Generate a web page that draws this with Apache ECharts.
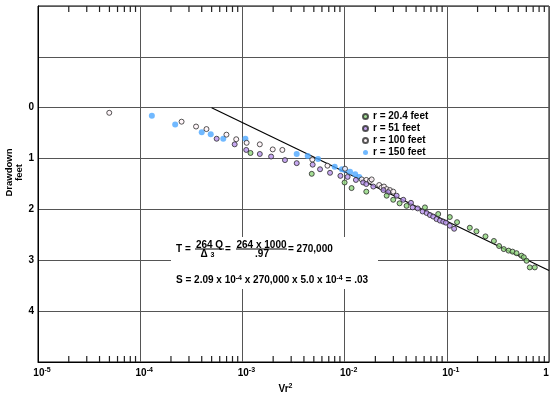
<!DOCTYPE html>
<html><head><meta charset="utf-8">
<script src="https://cdn.jsdelivr.net/npm/echarts/dist/echarts.min.js"></script>
<style>html,body{margin:0;padding:0;background:#fff}#c{width:554px;height:394px}</style>
</head><body><div id="c"></div>
<script>
// ---- data (x = t/r^2 axis value, y = drawdown in feet) ----
const seriesNames = ['r = 20.4 feet', 'r = 51 feet', 'r = 100 feet', 'r = 150 feet'];
const r20 = [[1.2e-3,0.89],[4.77e-3,1.30],[1.0e-2,1.47],[1.17e-2,1.58],[1.63e-2,1.65],[2.58e-2,1.73],[2.99e-2,1.81],[3.45e-2,1.88],[4.04e-2,1.93],[6.11e-2,1.96],[8.24e-2,2.09],[1.07e-1,2.15],[1.26e-1,2.25],[1.68e-1,2.36],[1.95e-1,2.43],[2.39e-1,2.53],[2.89e-1,2.62],[3.25e-1,2.72],[3.61e-1,2.78],[4.02e-1,2.81],[4.40e-1,2.83],[4.81e-1,2.86],[5.38e-1,2.91],[5.67e-1,2.94],[6.03e-1,3.01],[6.49e-1,3.14],[7.26e-1,3.14]];
const r51 = [[5.6e-4,0.61],[8.4e-4,0.72],[1.09e-3,0.83],[1.48e-3,0.91],[1.91e-3,0.96],[2.61e-3,1.03],[3.40e-3,1.09],[4.87e-3,1.12],[5.75e-3,1.21],[7.2e-3,1.28],[9.1e-3,1.34],[1.07e-2,1.36],[1.29e-2,1.42],[1.52e-2,1.47],[1.63e-2,1.50],[1.91e-2,1.55],[2.4e-2,1.62],[2.67e-2,1.66],[3.23e-2,1.73],[3.75e-2,1.81],[4.46e-2,1.87],[4.63e-2,1.96],[5.19e-2,1.98],[5.8e-2,2.04],[6.35e-2,2.07],[6.84e-2,2.11],[7.36e-2,2.14],[7.94e-2,2.19],[8.57e-2,2.22],[9.23e-2,2.24],[9.8e-2,2.26],[1.07e-1,2.32],[1.18e-1,2.38]];
const r100 = [[4.98e-5,0.10],[2.54e-4,0.275],[3.52e-4,0.37],[4.45e-4,0.42],[6.98e-4,0.53],[8.7e-4,0.62],[1.10e-3,0.69],[1.48e-3,0.72],[1.98e-3,0.82],[2.46e-3,0.83],[4.83e-3,1.02],[6.8e-3,1.14],[1.01e-2,1.20],[1.47e-2,1.41],[1.63e-2,1.42],[1.77e-2,1.44],[1.84e-2,1.41],[2.18e-2,1.52],[2.3e-2,1.57],[2.43e-2,1.55],[2.58e-2,1.60],[2.78e-2,1.62],[2.99e-2,1.65]];
const r150 = [[1.30e-4,0.157],[2.2e-4,0.33],[4.0e-4,0.48],[4.9e-4,0.52],[6.5e-4,0.61],[1.07e-3,0.61],[3.40e-3,0.91],[4.36e-3,0.95],[5.5e-3,1.01],[8.0e-3,1.16],[9.4e-3,1.21],[1.0e-2,1.22],[1.13e-2,1.26],[1.27e-2,1.31],[1.39e-2,1.36]];
const fitLine = [[5.0e-4,0],[1,3.2]];
const yTickLabels = [0,1,2,3,4];
const minorMultipliers = [2,3,4,5,6,7,8,9];
const decades = [1e-5,1e-4,1e-3,1e-2,1e-1];

const minorTicks = [];
decades.forEach(d => minorMultipliers.forEach(m => minorTicks.push(d*m)));
const Y_MIN = -2, Y_MAX = 5;

const FF = '"Liberation Sans", Arial, Helvetica, sans-serif';
const F10 = 'bold 10px ' + FF;

const chart = echarts.init(document.getElementById('c'), null, {renderer:'canvas'});
const scatterBase = {type:'scatter', symbol:'circle', symbolSize:5, clip:false};
chart.setOption({
  animation:false,
  backgroundColor:'#fff',
  grid:{left:38, right:5, top:6, bottom:32, show:true, borderColor:'#000', borderWidth:1, backgroundColor:'transparent', containLabel:false, outerBoundsMode:'none'},
  legend:{
    data:seriesNames, orient:'vertical', left:362, top:111, itemWidth:5, itemHeight:5, itemGap:1,
    icon:'circle', selectedMode:false, padding:0,
    textStyle:{fontSize:10, fontWeight:'bold', fontFamily:FF, color:'#000', lineHeight:11}
  },
  xAxis:{
    type:'log', logBase:10, min:1e-5, max:1,
    axisLine:{show:true, onZero:false, lineStyle:{color:'#000', width:1}},
    axisTick:{show:false},
    splitLine:{show:true, lineStyle:{color:'#555', width:1}},
    axisLabel:{
      margin:5, color:'#000',
      formatter:function(v){
        const e = Math.round(Math.log10(v));
        return e === 0 ? '{one|1}' : '{b|10}{s|' + e + '}';
      },
      rich:{
        b:{fontSize:10, fontWeight:'bold', fontFamily:FF, color:'#000', lineHeight:12, padding:[0,0,0,8]},
        s:{fontSize:7, fontWeight:'bold', fontFamily:FF, color:'#000', lineHeight:7, verticalAlign:'top'},
        one:{fontSize:10, fontWeight:'bold', fontFamily:FF, color:'#000', lineHeight:12, padding:[0,6,0,0]}
      }
    },
    name:'{b|Vr}{s|2}', nameLocation:'middle', nameGap:14,
    nameTextStyle:{
      padding:[0,16,0,0],
      rich:{
        b:{fontSize:10, fontWeight:'bold', fontFamily:FF, color:'#000', lineHeight:12},
        s:{fontSize:7, fontWeight:'bold', fontFamily:FF, color:'#000', lineHeight:7, verticalAlign:'top'}
      }
    }
  },
  yAxis:{
    type:'value', inverse:true, min:Y_MIN, max:Y_MAX, interval:1,
    axisLine:{show:true, onZero:false, lineStyle:{color:'#000', width:1}},
    axisTick:{show:false},
    splitLine:{show:true, lineStyle:{color:'#555', width:1}},
    axisLabel:{
      margin:4, color:'#000', fontSize:10, fontWeight:'bold', fontFamily:FF,
      formatter:function(v){ return yTickLabels.indexOf(v) >= 0 ? String(v) : ''; }
    }
  },
  graphic:[
    {type:'text', x:14, y:172.5, rotation:Math.PI/2, z:10,
      style:{text:'Drawdown\nfeet', font:'bold 9.5px ' + FF, fill:'#000', align:'center', verticalAlign:'middle', lineHeight:10}},
    {type:'rect', z:5, shape:{x:171, y:237, width:207, height:52}, style:{fill:'#fff'}},
    {type:'text', z:6, x:176, y:249.5, style:{text:'T =', font:F10, fill:'#000', verticalAlign:'middle'}},
    {type:'text', z:6, x:209.5, y:245.5, style:{text:'264 Q', font:F10, fill:'#000', align:'center', verticalAlign:'middle'}},
    {type:'line', z:6, shape:{x1:195, y1:249, x2:224, y2:249}, style:{stroke:'#000', lineWidth:1}},
    {type:'text', z:6, x:204, y:254.5, style:{text:'Δ', font:F10, fill:'#000', align:'center', verticalAlign:'middle'}},
    {type:'text', z:6, x:212.5, y:255, style:{text:'3', font:'bold 7px ' + FF, fill:'#000', align:'center', verticalAlign:'middle'}},
    {type:'text', z:6, x:228, y:249.5, style:{text:'=', font:F10, fill:'#000', align:'center', verticalAlign:'middle'}},
    {type:'text', z:6, x:261.5, y:245.5, style:{text:'264 x 1000', font:F10, fill:'#000', align:'center', verticalAlign:'middle'}},
    {type:'line', z:6, shape:{x1:236, y1:249, x2:287, y2:249}, style:{stroke:'#000', lineWidth:1}},
    {type:'text', z:6, x:262, y:254.5, style:{text:'.97', font:F10, fill:'#000', align:'center', verticalAlign:'middle'}},
    {type:'text', z:6, x:288, y:249.5, style:{text:'= 270,000', font:F10, fill:'#000', verticalAlign:'middle'}},
    {type:'text', z:6, x:176, y:280.5, style:{
      text:'{n|S = 2.09 x 10}{s|-4}{n| x 270,000 x 5.0 x 10}{s|-4}{n| = .03}',
      verticalAlign:'middle',
      rich:{
        n:{font:F10, fill:'#000', lineHeight:12},
        s:{font:'bold 7px ' + FF, fill:'#000', lineHeight:7, verticalAlign:'top'}
      }
    }}
  ],
  series:[
    {type:'line', data:fitLine, symbol:'none', z:1, lineStyle:{color:'#000', width:1.2}},
    {type:'scatter', name:'minorBottom', data:minorTicks.map(v => [v, Y_MAX]), symbol:'rect', symbolSize:[1.2,6], symbolOffset:[0,-3], clip:false, itemStyle:{color:'#222', opacity:1}, z:3},
    {type:'scatter', name:'minorTop', data:minorTicks.map(v => [v, Y_MIN]), symbol:'rect', symbolSize:[1.2,6], symbolOffset:[0,3], clip:false, itemStyle:{color:'#222', opacity:1}, z:3},
    Object.assign({}, scatterBase, {name:seriesNames[3], data:r150, symbolSize:6, itemStyle:{color:'#4da8ff', borderWidth:0}, z:2}),
    Object.assign({}, scatterBase, {name:seriesNames[2], data:r100, itemStyle:{color:'#fff2f7', borderColor:'#2a2a2a', borderWidth:1}, z:2}),
    Object.assign({}, scatterBase, {name:seriesNames[1], data:r51, itemStyle:{color:'#b892ee', borderColor:'#2a2a2a', borderWidth:1}, z:2}),
    Object.assign({}, scatterBase, {name:seriesNames[0], data:r20, itemStyle:{color:'#8fd67c', borderColor:'#2a2a2a', borderWidth:1}, z:2})
  ]
});
</script>
</body></html>
